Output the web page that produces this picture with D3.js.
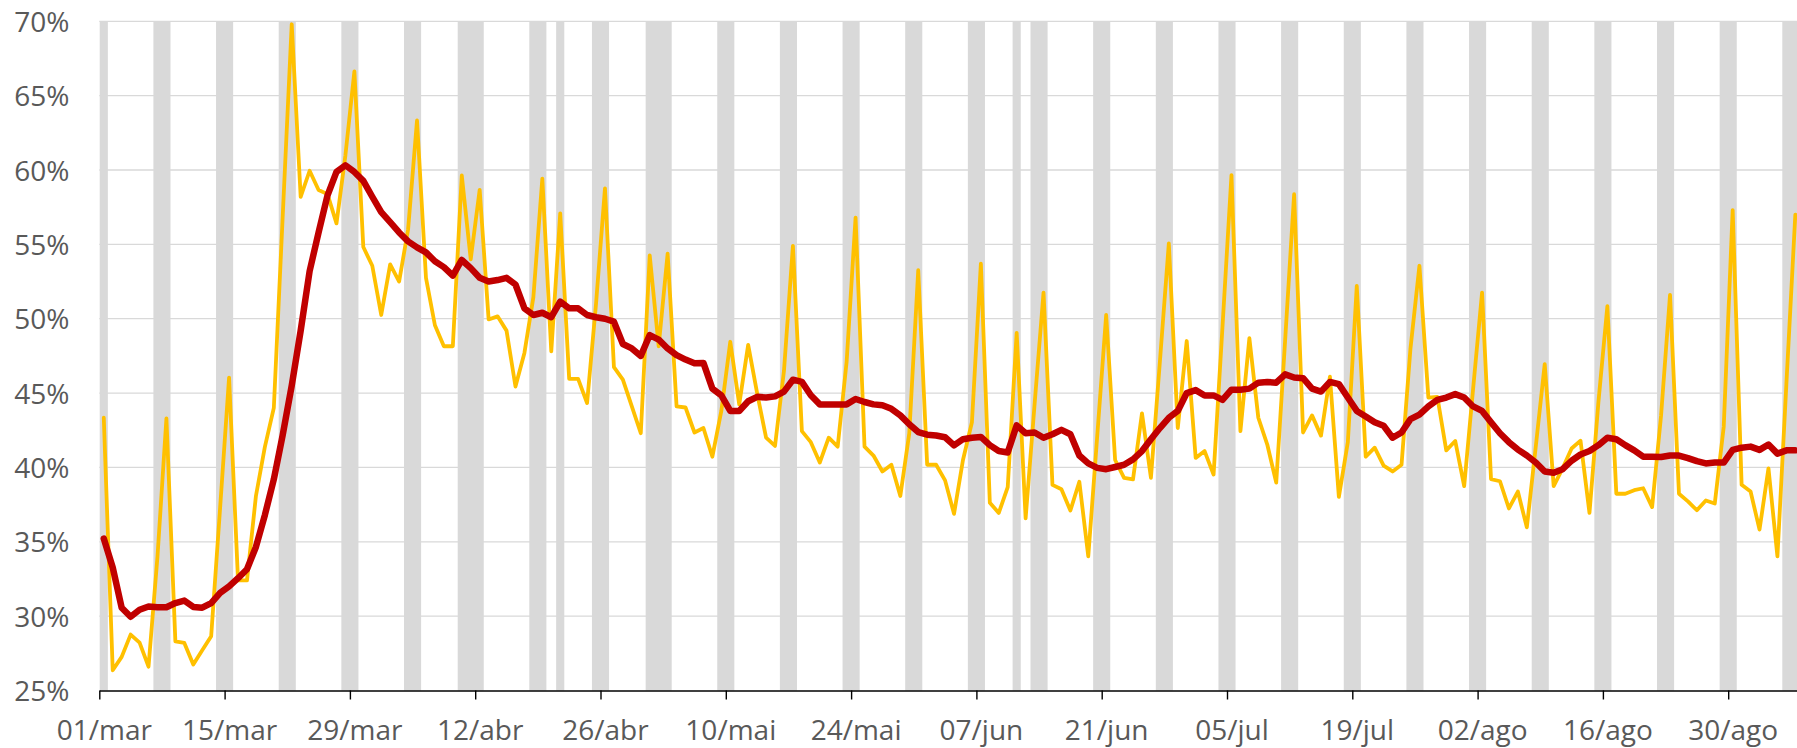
<!DOCTYPE html>
<html><head><meta charset="utf-8">
<script src="https://cdn.jsdelivr.net/npm/d3@7"></script>
<style>
body{margin:0;background:#fff;}
svg{display:block;}
text{font-family:"Open Sans",sans-serif;fill:#595959;}
</style>
</head><body>
<svg id="chart" width="1797" height="748"></svg>
<script>
// ---- data ----
const startDate = "2020-03-01";
const holidays = ["2020-04-10", "2020-04-21", "2020-05-01", "2020-06-11"];
const dailyShare = [
43.34,26.36,27.26,28.76,28.22,26.6,34.0,43.3,28.3,28.2,
26.75,27.7,28.65,37.3,46.04,32.4,32.4,38.08,41.38,44.0,
57.0,69.8,58.2,59.95,58.66,58.38,56.41,61.0,66.63,54.82,
53.56,50.25,53.65,52.5,56.0,63.33,52.75,49.56,48.15,48.15,
59.63,54.0,58.67,49.95,50.16,49.2,45.44,47.7,51.45,59.42,
47.8,57.08,45.95,45.95,44.33,51.0,58.76,46.74,45.9,44.1,
42.3,54.25,48.15,54.37,44.1,44.03,42.35,42.65,40.72,43.8,
48.45,44.24,48.24,45.0,42.0,41.45,46.5,54.9,42.44,41.7,
40.33,42.0,41.4,47.1,56.8,41.4,40.8,39.73,40.18,38.08,
42.3,53.26,40.18,40.18,39.13,36.88,40.5,43.04,53.7,37.63,
36.94,38.68,49.05,36.58,44.24,51.76,38.83,38.53,37.1,39.04,
34.02,42.1,50.25,40.5,39.3,39.2,43.64,39.3,47.1,55.06,
42.65,48.5,40.64,41.1,39.52,49.5,59.66,42.44,48.69,43.34,
41.54,38.98,48.6,58.37,42.35,43.5,42.14,46.1,38.02,41.69,
52.2,40.72,41.33,40.12,39.73,40.18,48.0,53.56,44.7,44.75,
41.15,41.78,38.74,45.3,51.76,39.22,39.07,37.24,38.38,35.97,
41.4,46.95,38.74,39.94,41.27,41.8,36.94,44.4,50.85,38.23,
38.23,38.47,38.6,37.33,43.5,51.6,38.23,37.72,37.12,37.78,
37.57,42.74,57.3,38.83,38.38,35.82,39.94,34.02,45.6,57.0
];
const movingAverage = [
35.22,33.27,30.57,29.96,30.43,30.65,30.6,30.6,30.88,31.05,
30.62,30.57,30.88,31.56,32.0,32.55,33.15,34.65,36.8,39.2,
42.2,45.5,49.2,53.2,55.8,58.3,59.87,60.32,59.87,59.27,
58.2,57.17,56.5,55.8,55.2,54.8,54.46,53.86,53.47,52.9,
53.95,53.4,52.75,52.5,52.6,52.75,52.3,50.7,50.25,50.4,
50.1,51.15,50.7,50.7,50.25,50.1,50.0,49.8,48.3,48.0,
47.5,48.9,48.6,48.0,47.55,47.25,47.0,47.03,45.3,44.85,
43.8,43.8,44.45,44.75,44.7,44.78,45.1,45.9,45.75,44.85,
44.24,44.24,44.24,44.24,44.6,44.4,44.24,44.18,43.94,43.5,
42.9,42.38,42.2,42.15,42.03,41.48,41.9,42.0,42.05,41.5,
41.1,41.0,42.83,42.3,42.35,42.0,42.23,42.53,42.23,40.8,
40.27,39.97,39.88,40.03,40.18,40.54,41.1,41.9,42.65,43.34,
43.8,45.0,45.2,44.84,44.84,44.54,45.23,45.23,45.3,45.7,
45.75,45.7,46.26,46.05,46.0,45.3,45.1,45.75,45.6,44.7,
43.8,43.43,43.04,42.8,42.0,42.35,43.25,43.55,44.1,44.54,
44.7,44.93,44.7,44.1,43.8,43.04,42.3,41.7,41.2,40.8,
40.33,39.73,39.64,39.88,40.45,40.87,41.1,41.5,42.0,41.9,
41.5,41.15,40.72,40.72,40.7,40.8,40.8,40.63,40.42,40.27,
40.33,40.33,41.18,41.33,41.4,41.18,41.54,40.93,41.15,41.15
];
const xTickLabels = ["01/mar","15/mar","29/mar","12/abr","26/abr","10/mai","24/mai",
  "07/jun","21/jun","05/jul","19/jul","02/ago","16/ago","30/ago"];
const yTicks = [25, 30, 35, 40, 45, 50, 55, 60, 65, 70];

// ---- layout ----
const W = 1797, H = 748;
const plotLeft = 99.3, dayW = 8.95, plotTop = 21.3, plotBottom = 690.5;

const svg = d3.select("#chart");
svg.append("rect").attr("width", W).attr("height", H).attr("fill", "#fff");

const parse = d3.utcParse("%Y-%m-%d");
const fmt = d3.utcFormat("%Y-%m-%d");
const start = parse(startDate);
const end = d3.utcDay.offset(start, dailyShare.length);
const days = d3.utcDay.range(start, end);

const x = d3.scaleUtc().domain([start, end]).range([plotLeft, plotLeft + dailyShare.length * dayW]);
const y = d3.scaleLinear().domain([25, 70]).range([plotBottom, plotTop]);
const mid = d => x(d3.utcHour.offset(d, 12));

// gridlines
svg.append("g").selectAll("line").data(yTicks.filter(v => v > 25)).join("line")
  .attr("x1", plotLeft).attr("x2", W)
  .attr("y1", d => y(d)).attr("y2", d => y(d))
  .attr("stroke", "#d9d9d9").attr("stroke-width", 1.3);

// non-working day bars (consecutive days merged into one band)
const isGray = d => d.getUTCDay() === 0 || d.getUTCDay() === 6 || holidays.includes(fmt(d));
const runs = [];
days.forEach(d => {
  if (!isGray(d)) return;
  const last = runs[runs.length - 1];
  if (last && +last.end === +d) last.end = d3.utcDay.offset(d, 1);
  else runs.push({ start: d, end: d3.utcDay.offset(d, 1) });
});
svg.append("g").selectAll("rect").data(runs).join("rect")
  .attr("x", r => x(r.start) + 0.4)
  .attr("width", r => x(r.end) - x(r.start) - 0.8)
  .attr("y", y(70)).attr("height", y(25) - y(70))
  .attr("fill", "#d9d9d9");

// lines
const line = d3.line().x((v, i) => mid(days[i])).y(v => y(v));
svg.append("path").datum(dailyShare).attr("d", line)
  .attr("fill", "none").attr("stroke", "#FFC000").attr("stroke-width", 3.8)
  .attr("stroke-linejoin", "round").attr("stroke-linecap", "round");
svg.append("path").datum(movingAverage).attr("d", line)
  .attr("fill", "none").attr("stroke", "#C00000").attr("stroke-width", 6.5)
  .attr("stroke-linejoin", "round").attr("stroke-linecap", "round");

// x axis
const tickDates = xTickLabels.map((_, i) => d3.utcDay.offset(start, 14 * i));
const xAxis = svg.append("g").attr("transform", `translate(0,${plotBottom})`)
  .call(d3.axisBottom(x).tickValues(tickDates).tickFormat((d, i) => xTickLabels[i])
    .tickSize(9).tickSizeOuter(0));
xAxis.select(".domain").attr("stroke", "#000").attr("stroke-width", 1.4);
xAxis.selectAll(".tick line").attr("stroke", "#000").attr("stroke-width", 1.4);
xAxis.selectAll(".tick text").attr("y", 49).attr("dy", 0).attr("dx", dayW / 2)
  .attr("font-size", 28).attr("fill", "#595959");

// y axis labels
const yAxis = svg.append("g").attr("transform", `translate(${plotLeft},0)`)
  .call(d3.axisLeft(y).tickValues(yTicks).tickFormat(d => d + "%").tickSize(0).tickPadding(30));
yAxis.select(".domain").remove();
yAxis.selectAll(".tick text").attr("font-size", 28).attr("fill", "#595959").attr("dy", "0.36em");
</script>
</body></html>
